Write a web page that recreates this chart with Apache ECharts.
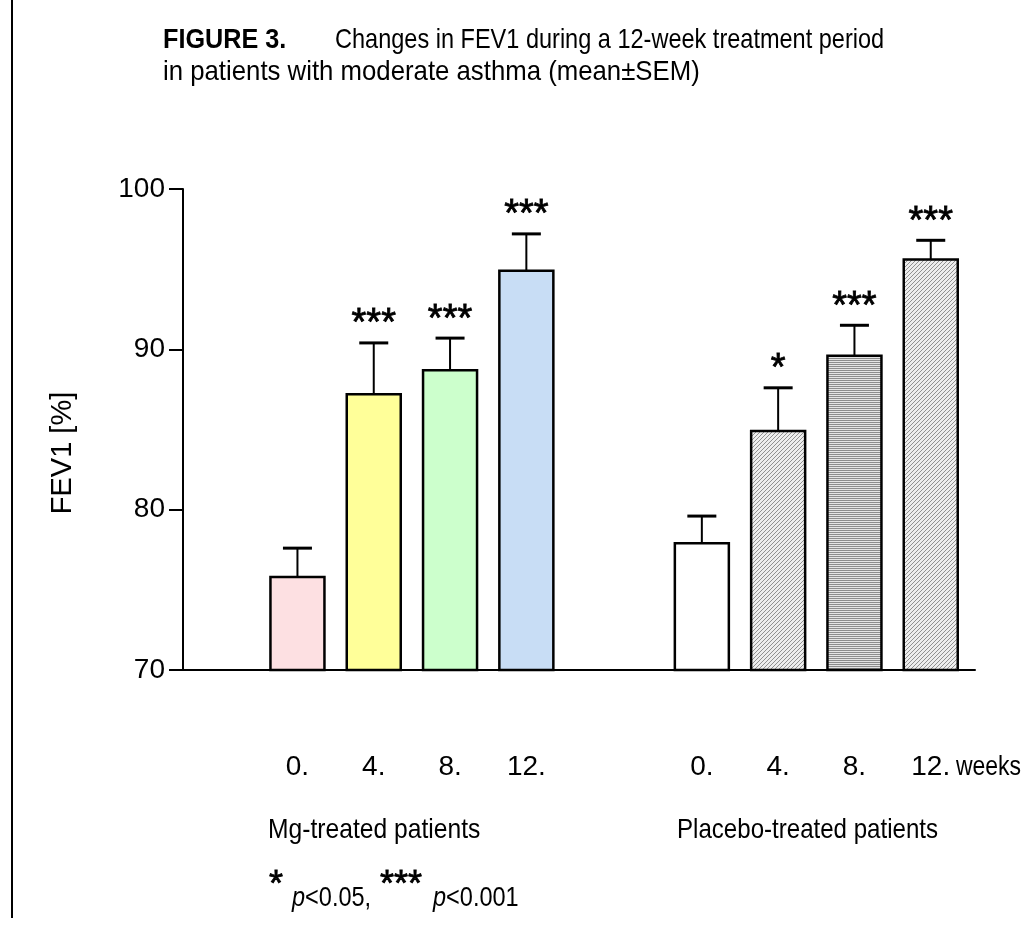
<!DOCTYPE html>
<html><head><meta charset="utf-8">
<script src="https://cdn.jsdelivr.net/npm/echarts@6/dist/echarts.min.js"></script>
<style>html,body{margin:0;padding:0;background:#fff}#c{width:1032px;height:937px}</style>
</head><body><div id="c"></div>
<script>
// ---- data ----
const weekLabels = ['0.', '4.', '8.', '12.'];
const groupNames = ['Mg-treated patients', 'Placebo-treated patients'];
const mgMean = [75.8, 87.2, 88.7, 94.9];
const mgSem = [1.8, 3.2, 2.0, 2.3];
const mgSig = ['', '***', '***', '***'];
const placeboMean = [77.9, 84.9, 89.6, 95.6];
const placeboSem = [1.7, 2.7, 1.9, 1.2];
const placeboSig = ['', '*', '***', '***'];
const yTicks = [70, 80, 90, 100];

// ---- styles ----
const NARROW = '"Liberation Sans Narrow", "Arial Narrow", "Liberation Sans", Arial, sans-serif';
const SANS = '"Liberation Sans", Arial, sans-serif';
function diagPattern() {
  const c = document.createElement('canvas'); c.width = 4; c.height = 4;
  const g = c.getContext('2d');
  g.fillStyle = '#ededed'; g.fillRect(0, 0, 4, 4);
  g.fillStyle = '#909090';
  for (let i = 0; i < 4; i++) g.fillRect(i, 3 - i, 1, 1);
  return { image: c, repeat: 'repeat' };
}
function horizPattern() {
  const c = document.createElement('canvas'); c.width = 2; c.height = 2;
  const g = c.getContext('2d');
  g.fillStyle = '#e4e4e4'; g.fillRect(0, 0, 2, 2);
  g.fillStyle = '#8c8c8c'; g.fillRect(0, 0, 2, 1);
  return { image: c, repeat: 'repeat' };
}
const mgFills = ['#fde0e2', '#ffff99', '#ccffcc', '#c8ddf5'];
const placeboFills = ['#ffffff', diagPattern(), horizPattern(), diagPattern()];
const groupStart = [1.5, 6.8];
const xMax = 10.38;

const groups = [
  { mean: mgMean, sem: mgSem, sig: mgSig, fills: mgFills },
  { mean: placeboMean, sem: placeboSem, sig: placeboSig, fills: placeboFills }
];

const labelPositions = [];
const labelTexts = [];
groups.forEach((g, gi) => weekLabels.forEach((w, i) => {
  labelPositions.push(groupStart[gi] + i); labelTexts.push(w);
}));

function makeSeries(g, gi) {
  return {
    type: 'custom',
    name: groupNames[gi],
    clip: false,
    data: g.mean.map((m, i) => [groupStart[gi] + i, m, g.sem[i]]),
    renderItem: function (params, api) {
      const i = params.dataIndex;
      const x = api.value(0), m = api.value(1), s = api.value(2);
      const base = api.coord([x, 70]);
      const top = api.coord([x, m]);
      const err = api.coord([x, m + s]);
      const bw = 54, cap = 29;
      const children = [
        { type: 'rect', shape: { x: base[0] - bw / 2, y: top[1], width: bw, height: base[1] - top[1] },
          style: { fill: g.fills[i], stroke: '#000', lineWidth: 2.5 } },
        { type: 'line', shape: { x1: err[0], y1: top[1], x2: err[0], y2: err[1] },
          style: { stroke: '#000', lineWidth: 2 } },
        { type: 'line', shape: { x1: err[0] - cap / 2, y1: err[1], x2: err[0] + cap / 2, y2: err[1] },
          style: { stroke: '#000', lineWidth: 3 } }
      ];
      if (g.sig[i]) {
        children.push({ type: 'text', x: err[0], y: err[1] - 18,
          style: { text: g.sig[i], fill: '#000', font: '38px ' + SANS, align: 'center', verticalAlign: 'middle',
            stroke: '#000', lineWidth: 0.8 } });
      }
      return { type: 'group', children: children };
    }
  };
}

function txt(x, y, text, opts) {
  opts = opts || {};
  return {
    type: 'text', x: x, y: y, scaleX: opts.sx || 1,
    style: Object.assign({ text: text, font: (opts.bold ? 'bold ' : '') + (opts.size || 28) + 'px ' + NARROW,
      fill: '#000', verticalAlign: 'middle', align: opts.align || 'left' }, opts.extra || {})
  };
}

const chart = echarts.init(document.getElementById('c'), null, { renderer: 'canvas' });
chart.setOption({
  backgroundColor: '#fff',
  animation: false,
  grid: { left: 183, right: 57, top: 189, bottom: 267, containLabel: false },
  xAxis: {
    type: 'value', min: 0, max: xMax,
    splitLine: { show: false },
    axisLine: { show: true, onZero: false, lineStyle: { color: '#000', width: 2 } },
    axisTick: { show: false },
    axisLabel: {
      customValues: labelPositions,
      margin: 83,
      fontFamily: NARROW, fontSize: 28, color: '#000',
      formatter: function (v) {
        let best = 0;
        labelPositions.forEach((p, k) => { if (Math.abs(p - v) < Math.abs(labelPositions[best] - v)) best = k; });
        return labelTexts[best];
      }
    }
  },
  yAxis: {
    type: 'value', min: 70, max: 100, interval: 10,
    splitLine: { show: false },
    axisLine: { show: true, lineStyle: { color: '#000', width: 2 } },
    axisTick: { show: true, length: 14, lineStyle: { color: '#000', width: 2 } },
    axisLabel: { margin: 18, fontFamily: NARROW, fontSize: 28, color: '#000' }
  },
  series: groups.map(makeSeries),
  graphic: [
    { type: 'line', shape: { x1: 12, y1: 0, x2: 12, y2: 918 }, style: { stroke: '#000', lineWidth: 2 } },
    txt(163, 40, 'FIGURE 3.', { bold: true, sx: 0.9 }),
    txt(335, 40, 'Changes in FEV1 during a 12-week treatment period', { sx: 0.84 }),
    txt(163, 72, 'in patients with moderate asthma (mean\u00b1SEM)', { sx: 0.92 }),
    { type: 'text', x: 63, y: 453, rotation: Math.PI / 2,
      style: { text: 'FEV1 [%]', font: '29px ' + NARROW, fill: '#000', align: 'center', verticalAlign: 'middle' } },
    txt(956, 767, 'weeks', { sx: 0.82 }),
    txt(268, 830, groupNames[0], { sx: 0.88 }),
    txt(677, 830, groupNames[1], { sx: 0.86 }),
    { type: 'text', x: 276, y: 886, style: { text: '*', font: '36px ' + SANS, fill: '#000', align: 'center', verticalAlign: 'middle', stroke: '#000', lineWidth: 0.8 } },
    txt(292, 898, '{i|p}<0.05,', { sx: 0.84, extra: { rich: { i: { fontStyle: 'italic', fontFamily: NARROW, fontSize: 28 } } } }),
    { type: 'text', x: 401, y: 886, style: { text: '***', font: '36px ' + SANS, fill: '#000', align: 'center', verticalAlign: 'middle', stroke: '#000', lineWidth: 0.8 } },
    txt(433, 898, '{i|p}<0.001', { sx: 0.84, extra: { rich: { i: { fontStyle: 'italic', fontFamily: NARROW, fontSize: 28 } } } })
  ]
});
</script>
</body></html>
